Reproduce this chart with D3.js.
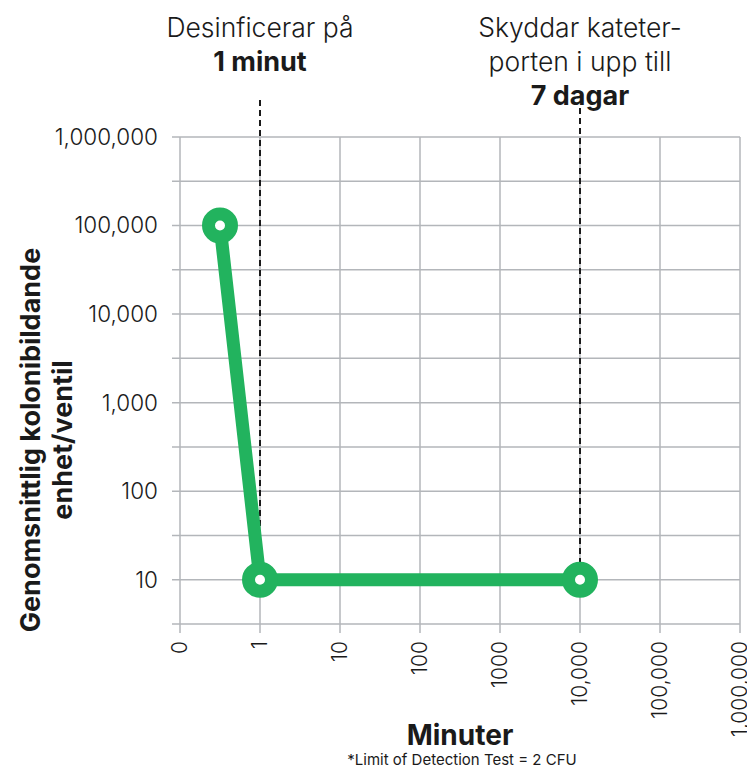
<!DOCTYPE html>
<html>
<head>
<meta charset="utf-8">
<script src="https://d3js.org/d3.v7.min.js"></script>
<style>
  body { margin: 0; background: #fff; }
  svg text { font-family: "Inter", "Roboto", sans-serif; fill: #1a1a1a; }
</style>
</head>
<body>
<div id="chart"></div>
<script>
// x axis categories (positions are ordinal indexes)
var xLabels = ["0", "1", "10", "100", "1000", "10,000", "100,000", "1,000,000"];
// y tick values (log)
var yTicks = [10, 100, 1000, 10000, 100000, 1000000];
// series: x index, value
var pointX = [0.5, 1, 5];
var pointY = [100000, 10, 10];
// dashed markers
var markX = [1, 5];
var markTop = [100, 108];

var width = 747, height = 768;
var svg = d3.select("#chart").append("svg")
    .attr("width", width).attr("height", height);

var x = d3.scaleLinear().domain([0, xLabels.length - 1]).range([180, 740]);
var y = d3.scaleLog().domain([Math.sqrt(10), 1e6]).range([624, 137]);

var grid = "#b3b6ba";

// horizontal gridlines at every half decade
var hLines = d3.range(1, 13).map(function(k) { return Math.pow(10, k / 2); });
svg.append("g").selectAll("line").data(hLines).enter().append("line")
    .attr("x1", 172).attr("x2", 740)
    .attr("y1", function(d) { return y(d); }).attr("y2", function(d) { return y(d); })
    .attr("stroke", grid).attr("stroke-width", 1.5);

// vertical gridlines
svg.append("g").selectAll("line").data(xLabels).enter().append("line")
    .attr("x1", function(d, i) { return x(i); }).attr("x2", function(d, i) { return x(i); })
    .attr("y1", 137).attr("y2", 633)
    .attr("stroke", grid).attr("stroke-width", 1.5);

// y tick labels
svg.append("g").selectAll("text").data(yTicks).enter().append("text")
    .attr("x", 158).attr("y", function(d) { return y(d); })
    .attr("dy", "0.35em")
    .attr("text-anchor", "end")
    .style("font-size", "22.5px").style("font-weight", 300)
    .text(function(d) { return d3.format(",")(d); });

// x tick labels (rotated)
svg.append("g").selectAll("text").data(xLabels).enter().append("text")
    .attr("transform", function(d, i) { return "translate(" + x(i) + ",641) rotate(-90)"; })
    .attr("dy", "0.35em")
    .attr("text-anchor", "end")
    .style("font-size", "21px").style("font-weight", 300)
    .text(function(d) { return d; });

// dashed lines
svg.append("g").selectAll("line").data(markX).enter().append("line")
    .attr("x1", function(d) { return x(d); }).attr("x2", function(d) { return x(d); })
    .attr("y1", function(d, i) { return markTop[i]; })
    .attr("y2", function(d, i) { return y(pointY[i + 1]) - 10; })
    .attr("stroke", "#1a1a1a").attr("stroke-width", 2)
    .attr("stroke-dasharray", "6,4");

// series line
var pts = pointX.map(function(d, i) { return [x(d), y(pointY[i])]; });
svg.append("path")
    .attr("d", d3.line()(pts))
    .attr("fill", "none")
    .attr("stroke", "#22b35e")
    .attr("stroke-width", 13)
    .attr("stroke-linejoin", "round");

svg.append("g").selectAll("circle").data(pts).enter().append("circle")
    .attr("cx", function(d) { return d[0]; }).attr("cy", function(d) { return d[1]; })
    .attr("r", 11.5)
    .attr("fill", "#fff")
    .attr("stroke", "#22b35e")
    .attr("stroke-width", 13);

// top annotations
function note(cx, lines) {
    var t = svg.append("text").attr("text-anchor", "middle");
    lines.forEach(function(l, i) {
        t.append("tspan").attr("x", cx).attr("y", 37 + i * 34)
            .style("font-size", l.bold ? "27px" : "26.5px")
            .style("font-weight", l.bold ? 700 : 300)
            .text(l.text);
    });
}
note(x(1), [{text: "Desinficerar på"}, {text: "1 minut", bold: true}]);
note(x(5), [{text: "Skyddar kateter-"}, {text: "porten i upp till"}, {text: "7 dagar", bold: true}]);

// axis titles
svg.append("text")
    .attr("x", 460).attr("y", 745)
    .attr("text-anchor", "middle")
    .style("font-size", "28px").style("font-weight", 700)
    .text("Minuter");

svg.append("text")
    .attr("x", 462).attr("y", 765)
    .attr("text-anchor", "middle")
    .style("font-size", "15px")
    .text("*Limit of Detection Test = 2 CFU");

var yt = svg.append("text")
    .attr("transform", "translate(0,440) rotate(-90)")
    .attr("text-anchor", "middle")
    .style("font-size", "27px").style("font-weight", 700);
yt.append("tspan").attr("x", 0).attr("y", 40).text("Genomsnittlig kolonibildande");
yt.append("tspan").attr("x", 0).attr("y", 72).text("enhet/ventil");
</script>
</body>
</html>
